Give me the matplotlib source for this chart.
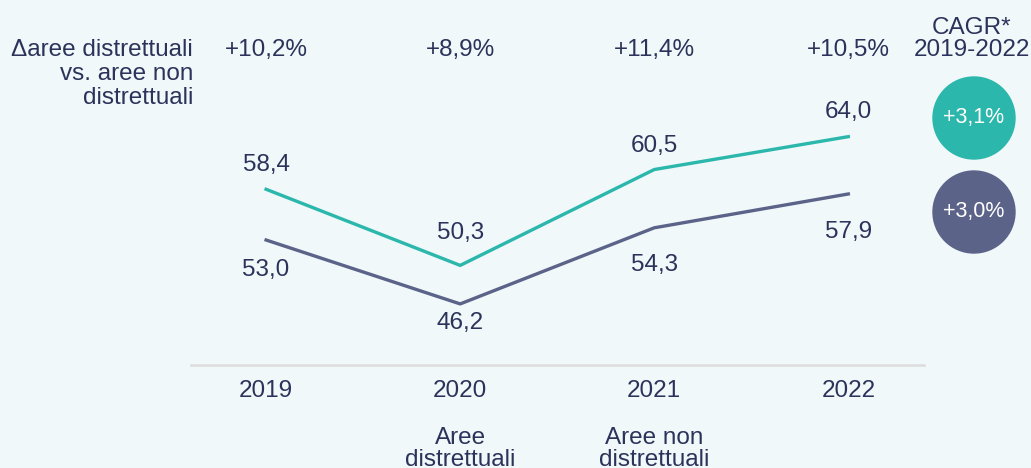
import matplotlib.pyplot as plt
from matplotlib.patches import Ellipse

plt.rcParams['font.family'] = ['Liberation Sans', 'DejaVu Sans']

years = ['2019', '2020', '2021', '2022']
distrettuali = [58.4, 50.3, 60.5, 64.0]
non_distrettuali = [53.0, 46.2, 54.3, 57.9]
delta = ['+10,2%', '+8,9%', '+11,4%', '+10,5%']
cagr = ['+3,1%', '+3,0%']

bg = '#f0f8fa'
teal = '#2bb7ab'
navy = '#5b6389'
txt = '#2c335a'
fs = 17.5

W, H = 1031, 468
fig = plt.figure(figsize=(W / 100, H / 100), dpi=100, facecolor=bg)

def fx(x):
    return x / W

def fy(y):
    return 1 - y / H

ax = fig.add_axes([fx(191), fy(365), fx(924) - fx(191), fy(100) - fy(365)])
ax.set_facecolor(bg)
xs = list(range(len(years)))
ax.plot(xs, distrettuali, color=teal, lw=2.4)
ax.plot(xs, non_distrettuali, color=navy, lw=2.4)
ax.set_xlim(-0.387, 3.39)
ax.set_ylim(39.7, 67.9)

# label offsets in pixels (label centre relative to point)
off_top = [24, 32, 24, 25]
off_bot = [-30, -19, -37, -38]
for i in xs:
    ax.annotate(f'{distrettuali[i]:.1f}'.replace('.', ','), (i, distrettuali[i]),
                xytext=(0, off_top[i] * 0.72), textcoords='offset points',
                ha='center', va='center', fontsize=fs, color=txt)
    ax.annotate(f'{non_distrettuali[i]:.1f}'.replace('.', ','), (i, non_distrettuali[i]),
                xytext=(0, off_bot[i] * 0.72), textcoords='offset points',
                ha='center', va='center', fontsize=fs, color=txt)

for s in ['top', 'right', 'left']:
    ax.spines[s].set_visible(False)
ax.spines['bottom'].set_color('#dcdcdc')
ax.spines['bottom'].set_linewidth(1.8)
ax.set_yticks([])
ax.set_xticks(xs)
ax.set_xticklabels(years, fontsize=fs, color=txt)
ax.tick_params(axis='x', length=0, pad=11)

def col_x(i):
    return fig.transFigure.inverted().transform(ax.transData.transform((i, 50)))[0]

# top row of deltas
for i in xs:
    fig.text(col_x(i), fy(50), delta[i], ha='center', va='center', fontsize=fs, color=txt)

fig.text(fx(193), fy(74), 'Δaree distrettuali\nvs. aree non\ndistrettuali',
         ha='right', va='center', fontsize=fs, color=txt, linespacing=1.12)
fig.text(fx(972), fy(39), 'CAGR*\n2019-2022', ha='center', va='center',
         fontsize=fs, color=txt, linespacing=1.05)

# CAGR circles
for cy, col, lab in [(118, teal, cagr[0]), (212, navy, cagr[1])]:
    e = Ellipse((fx(974), fy(cy)), 82 / W, 82 / H, transform=fig.transFigure, color=col)
    fig.patches.append(e)
    fig.text(fx(974), fy(cy), lab, ha='center', va='center', fontsize=15.5, color='white')

# legend text
for i, lab in [(1, 'Aree\ndistrettuali'), (2, 'Aree non\ndistrettuali')]:
    fig.text(col_x(i), fy(449), lab, ha='center', va='center', fontsize=fs, color=txt,
             linespacing=1.05)

fig.savefig('out.png', dpi=100, facecolor=bg)
